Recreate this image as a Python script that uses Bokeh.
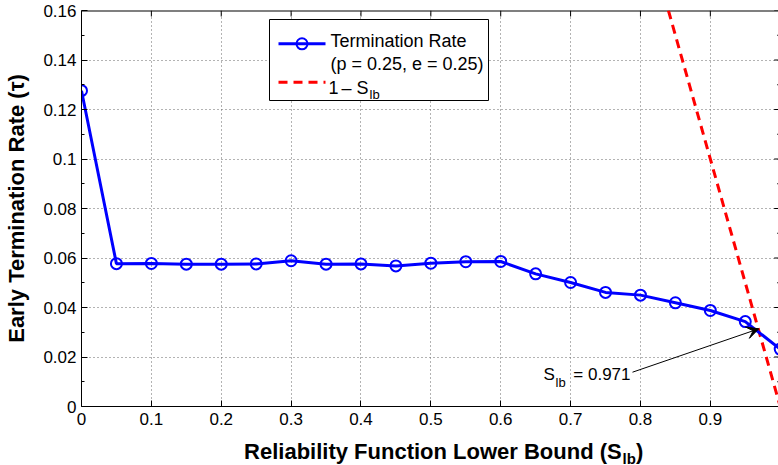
from bokeh.plotting import figure
from bokeh.layouts import column
from bokeh.models import Range1d, FixedTicker, Label, BoxAnnotation, Arrow, VeeHead
from bokeh.embed import file_html
from bokeh.resources import INLINE

# ---------------- data ----------------
s_lb = [0.0, 0.05, 0.1, 0.15, 0.2, 0.25, 0.3, 0.35, 0.4, 0.45, 0.5,
        0.55, 0.6, 0.65, 0.7, 0.75, 0.8, 0.85, 0.9, 0.95, 1.0]
term_rate = [0.1276, 0.0577, 0.0578, 0.0575, 0.0575, 0.0576, 0.0589, 0.0575,
             0.0576, 0.0568, 0.0579, 0.0585, 0.0586, 0.0536, 0.0501, 0.0461,
             0.0450, 0.0419, 0.0388, 0.0343, 0.0232]
bound_x = [0.84, 1.0]
bound_y = [0.16, 0.0]          # 1 - S_lb

x_ticks = [0.0, 0.1, 0.2, 0.3, 0.4, 0.5, 0.6, 0.7, 0.8, 0.9, 1.0]
x_tick_labels = ["0", "0.1", "0.2", "0.3", "0.4", "0.5", "0.6", "0.7", "0.8", "0.9", "1"]
y_ticks = [0.0, 0.02, 0.04, 0.06, 0.08, 0.1, 0.12, 0.14, 0.16]
y_tick_labels = ["0", "0.02", "0.04", "0.06", "0.08", "0.1", "0.12", "0.14", "0.16"]
y_minor_ticks = [0.01, 0.03, 0.05, 0.07, 0.09, 0.11, 0.13, 0.15]

legend_text_1 = "Termination Rate"
legend_text_1b = "(p = 0.25, e = 0.25)"
legend_text_2 = ["1", "\u2013", "S"]
sub_text = "lb"
annot_text = "= 0.971"
x_label = "Reliability Function Lower Bound (S"
y_label = "Early Termination Rate (\u03c4)"

# ---------------- layout ----------------
W, H = 778, 465
L, R, T, B = 81, 778, 10, 406
SPLIT = 431                     # main figure height; x-axis title strip below
PX_PER_X = 698.7
PX_PER_Y = (B - T) / 0.16
X_END = (R - L) / PX_PER_X
FONT = "Liberation Sans"


def dx(px):
    return (px - L) / PX_PER_X


def dy(py):
    return (B - py) / PX_PER_Y


p = figure(width=W, height=SPLIT, x_range=Range1d(0, X_END), y_range=Range1d(0, 0.16),
           output_backend="svg", toolbar_location=None,
           min_border_left=L, min_border_right=W - R, min_border_top=T,
           min_border_bottom=SPLIT - B)
p.background_fill_color = "white"
p.border_fill_color = "white"
p.outline_line_color = None

xax = p.xaxis[0]
xax.ticker = FixedTicker(ticks=x_ticks, minor_ticks=[])
xax.major_label_overrides = dict(zip(x_ticks, x_tick_labels))
yax = p.yaxis[0]
yax.ticker = FixedTicker(ticks=y_ticks, minor_ticks=y_minor_ticks)
yax.major_label_overrides = dict(zip(y_ticks, y_tick_labels))
for ax in (xax, yax):
    ax.axis_line_color = "black"
    ax.major_tick_in = 6
    ax.major_tick_out = 0
    ax.minor_tick_in = 3
    ax.minor_tick_out = 0
    ax.major_tick_line_color = "black"
    ax.minor_tick_line_color = "black"
    ax.major_label_text_font = FONT
    ax.major_label_text_font_size = "17px"
    ax.major_label_text_color = "black"
xax.major_label_standoff = 6
yax.major_label_standoff = 5

yax.axis_label = y_label
yax.axis_label_text_font = FONT
yax.axis_label_text_font_size = "22px"
yax.axis_label_text_font_style = "bold"
yax.axis_label_text_color = "black"
yax.axis_label_standoff = 11

for g in (p.xgrid[0], p.ygrid[0]):
    g.grid_line_color = "#666666"
    g.grid_line_dash = "1 3"
    g.grid_line_width = 1
p.xgrid[0].ticker = xax.ticker
p.ygrid[0].ticker = FixedTicker(ticks=y_ticks)

# top border and inward ticks on the top and right edges
p.segment(x0=[0.0], y0=[0.16], x1=[X_END], y1=[0.16], line_color="black", line_width=2)
p.segment(x0=x_ticks, y0=[0.16] * len(x_ticks), x1=x_ticks,
          y1=[0.16 - 6 / PX_PER_Y] * len(x_ticks), line_color="black", line_width=1)
p.segment(x0=[1.0 - 6 / PX_PER_X] * len(y_ticks), y0=y_ticks, x1=[1.0] * len(y_ticks),
          y1=y_ticks, line_color="black", line_width=1)
p.segment(x0=[1.0 - 3 / PX_PER_X] * len(y_minor_ticks), y0=y_minor_ticks,
          x1=[1.0] * len(y_minor_ticks), y1=y_minor_ticks, line_color="black", line_width=1)

# ---------------- data series ----------------
p.line(bound_x, bound_y, line_color="#ff0000", line_width=3, line_dash="9 6")
p.line(s_lb, term_rate, line_color="#0000ff", line_width=3)
p.scatter(s_lb, term_rate, marker="circle", size=11, fill_color=None,
          line_color="#0000ff", line_width=2)

# ---------------- legend (manual) ----------------
box = BoxAnnotation(left=dx(269), right=dx(488), top=dy(19), bottom=dy(100),
                    fill_color="white", fill_alpha=1.0, line_color="black",
                    line_width=1, line_alpha=1.0, level="underlay")
p.add_layout(box)
p.line([dx(278), dx(325)], [dy(43.3), dy(43.3)], line_color="#0000ff", line_width=3)
p.scatter([dx(301.5)], [dy(43.3)], marker="circle", size=11, fill_color=None,
          line_color="#0000ff", line_width=2)
p.line([dx(278), dx(325)], [dy(81.7), dy(81.7)], line_color="#ff0000",
       line_width=3, line_dash="9 6")


def add_label(fig, text, x, y, size, align="left", bold=False):
    fig.add_layout(Label(x=x, y=y, text=text, text_font=FONT,
                         text_font_size=f"{size}px", text_align=align,
                         text_baseline="alphabetic", text_color="black",
                         text_font_style="bold" if bold else "normal"))


add_label(p, legend_text_1, dx(330), dy(40), 18)
add_label(p, legend_text_1b, dx(330), dy(63), 18)
for piece, px in zip(legend_text_2, [328, 341, 356]):
    add_label(p, piece, dx(px), dy(87), 18)
add_label(p, sub_text, dx(369), dy(94), 13)

# ---------------- annotation ----------------
arrow = Arrow(x_start=dx(632), y_start=dy(371.7), x_end=dx(758.3), y_end=dy(328.3),
              line_color="black", line_width=1,
              end=VeeHead(size=12, fill_color="black", line_color="black", line_width=1))
p.add_layout(arrow)
add_label(p, "S", dx(543), dy(374), 17)
add_label(p, sub_text, dx(555), dy(382), 13)
add_label(p, annot_text, dx(630), dy(374), 17, align="right")

# ---------------- x axis title strip (allows the subscript) ----------------
SH = H - SPLIT
q = figure(width=W, height=SH, x_range=Range1d(0, W), y_range=Range1d(0, SH),
           output_backend="svg", toolbar_location=None,
           x_axis_location=None, y_axis_location=None,
           min_border_left=0, min_border_right=0, min_border_top=0, min_border_bottom=0)
q.outline_line_color = None
q.background_fill_color = "white"
q.border_fill_color = "white"
q.grid.visible = False
add_label(q, x_label, 603, H - 451, 22, align="right", bold=True)
add_label(q, sub_text, 604, H - 458, 15, bold=True)
add_label(q, ")", 619, H - 451, 22, bold=True)

layout = column(p, q, spacing=0)
open("out.html", "w").write(file_html(layout, INLINE))
